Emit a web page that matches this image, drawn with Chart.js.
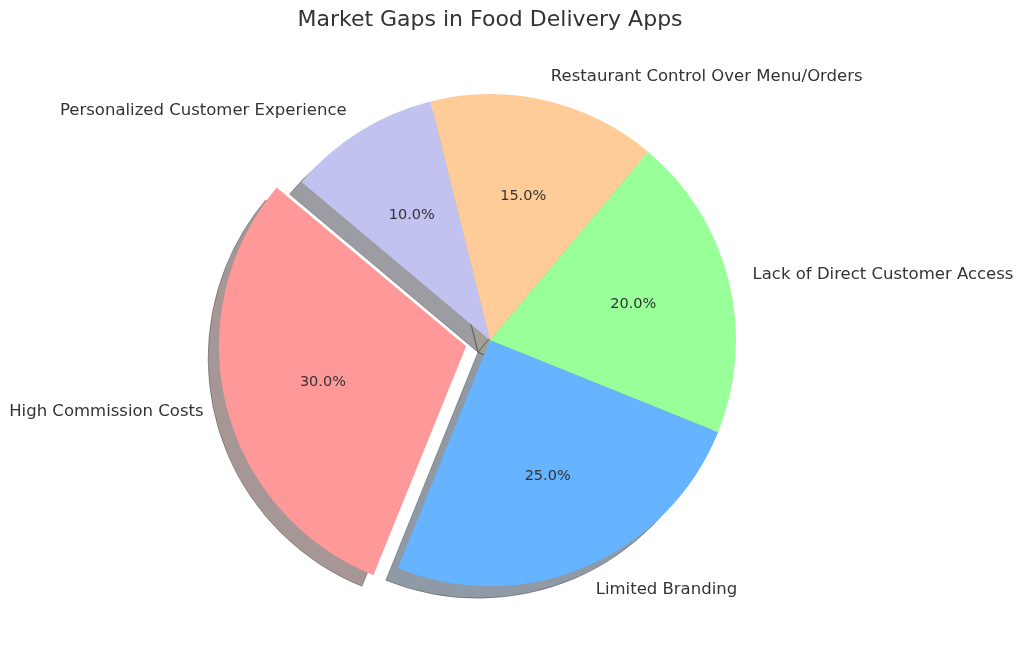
<!DOCTYPE html>
<html>
<head>
<meta charset="utf-8">
<script src="https://cdn.jsdelivr.net/npm/chart.js@4.4.0/dist/chart.umd.min.js"></script>
<style>
  html, body { margin: 0; padding: 0; background: #fff; }
  #wrap { width: 1024px; height: 657px; }
</style>
</head>
<body>
<div id="wrap"><canvas id="pie"></canvas></div>
<script>
// Data (matplotlib order, counter-clockwise from 140 deg)
const categories = [
    'High Commission Costs',
    'Limited Branding',
    'Lack of Direct Customer Access',
    'Restaurant Control Over Menu/Orders',
    'Personalized Customer Experience'
];
const shares = [30, 25, 20, 15, 10];
const sliceColors = ['#ff9999', '#66b3ff', '#99ff99', '#ffcc99', '#c2c2f0'];
const explode = [0.1, 0, 0, 0, 0];

const RADIUS = 246;
const SHADOW_DX = -12;
const SHADOW_DY = 12;

// Chart.js goes clockwise, so reverse the order
const labelsCW = [...categories].reverse();
const valuesCW = [...shares].reverse();
const colorsCW = [...sliceColors].reverse();
const offsetsCW = [...explode].reverse().map(e => e * RADIUS * 4); // arc translates by offset/4

function shadowColor(hex) {
    const r = parseInt(hex.slice(1, 3), 16);
    const g = parseInt(hex.slice(3, 5), 16);
    const b = parseInt(hex.slice(5, 7), 16);
    return `rgba(${Math.round(r * 0.3)}, ${Math.round(g * 0.3)}, ${Math.round(b * 0.3)}, 0.5)`;
}

// Draw the dark drop shadows under all wedges
const shadowPlugin = {
    id: 'pieShadow',
    beforeDatasetsDraw(chart) {
        const ctx = chart.ctx;
        const meta = chart.getDatasetMeta(0);
        meta.data.forEach((arc, i) => {
            const mid = (arc.startAngle + arc.endAngle) / 2;
            const shift = (arc.options.offset || 0) / 4;
            const cx = arc.x + Math.cos(mid) * shift + SHADOW_DX;
            const cy = arc.y + Math.sin(mid) * shift + SHADOW_DY;
            ctx.save();
            ctx.beginPath();
            ctx.moveTo(cx, cy);
            ctx.arc(cx, cy, arc.outerRadius, arc.startAngle, arc.endAngle);
            ctx.closePath();
            ctx.fillStyle = shadowColor(colorsCW[i]);
            ctx.fill();
            ctx.strokeStyle = 'rgba(40, 40, 40, 0.45)';
            ctx.lineWidth = 0.8;
            ctx.stroke();
            ctx.restore();
        });
    }
};

// Outer labels at 1.1r and percentages at 0.6r, like matplotlib
const labelPlugin = {
    id: 'pieLabels',
    afterDatasetsDraw(chart) {
        const ctx = chart.ctx;
        const meta = chart.getDatasetMeta(0);
        const total = valuesCW.reduce((a, b) => a + b, 0);
        meta.data.forEach((arc, i) => {
            const mid = (arc.startAngle + arc.endAngle) / 2;
            const shift = (arc.options.offset || 0) / 4;
            const cx = arc.x + Math.cos(mid) * shift;
            const cy = arc.y + Math.sin(mid) * shift;
            const r = arc.outerRadius;

            ctx.save();
            ctx.fillStyle = '#333333';
            ctx.textBaseline = 'middle';

            ctx.font = '16.5px "DejaVu Sans"';
            ctx.textAlign = Math.cos(mid) >= 0 ? 'left' : 'right';
            ctx.fillText(labelsCW[i], cx + Math.cos(mid) * r * 1.1, cy + Math.sin(mid) * r * 1.1);

            ctx.font = '14.5px "DejaVu Sans"';
            ctx.textAlign = 'center';
            const pct = (valuesCW[i] / total * 100).toFixed(1) + '%';
            ctx.fillText(pct, cx + Math.cos(mid) * r * 0.6, cy + Math.sin(mid) * r * 0.6);
            ctx.restore();
        });
    }
};

const ctx = document.getElementById('pie').getContext('2d');
new Chart(ctx, {
    type: 'pie',
    data: {
        labels: labelsCW,
        datasets: [{
            data: valuesCW,
            backgroundColor: colorsCW,
            borderWidth: 0,
            offset: offsetsCW,
            hoverOffset: 0
        }]
    },
    options: {
        responsive: true,
        maintainAspectRatio: false,
        animation: false,
        events: [],
        rotation: -50,
        radius: RADIUS,
        layout: {
            padding: { top: 0, bottom: 18, left: 0, right: 44 }
        },
        plugins: {
            legend: { display: false },
            tooltip: { enabled: false },
            title: {
                display: true,
                text: 'Market Gaps in Food Delivery Apps',
                color: '#333333',
                font: { family: '"DejaVu Sans"', size: 22, weight: 'normal' },
                padding: { top: 7, bottom: 8 }
            }
        }
    },
    plugins: [shadowPlugin, labelPlugin]
});
</script>
</body>
</html>
